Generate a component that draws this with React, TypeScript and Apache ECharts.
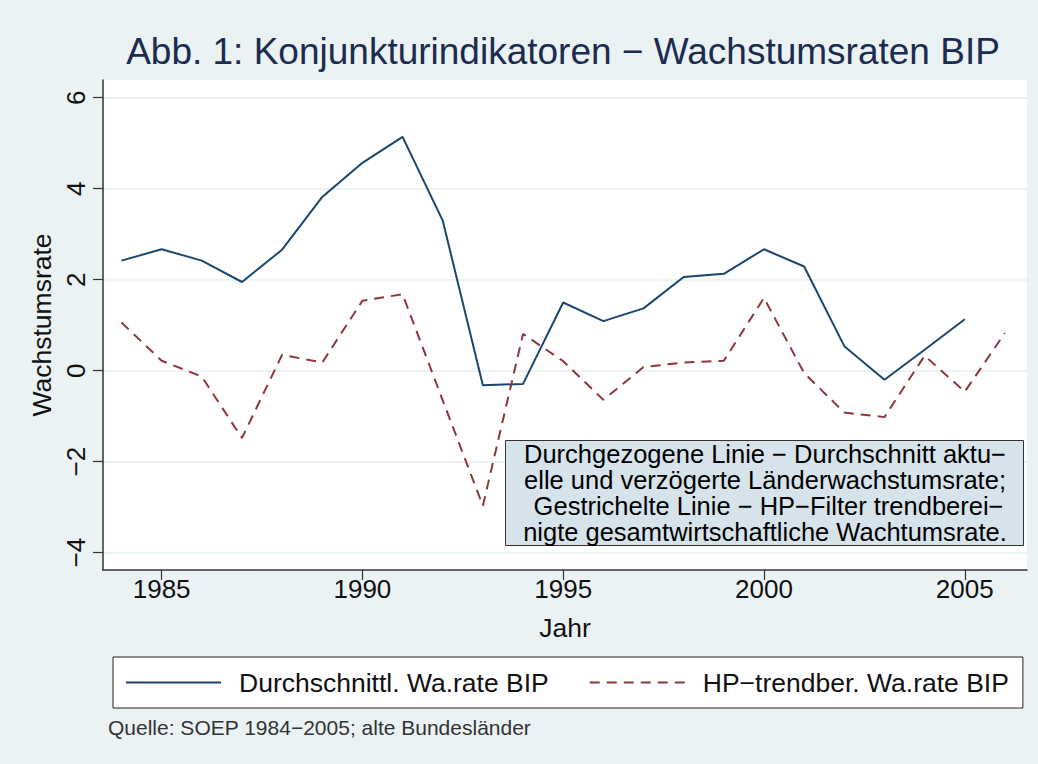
import React, { useEffect, useRef } from "react";
import * as echarts from "echarts";

const years = [1984, 1985, 1986, 1987, 1988, 1989, 1990, 1991, 1992, 1993, 1994, 1995, 1996, 1997, 1998, 1999, 2000, 2001, 2002, 2003, 2004, 2005, 2006];
const avgRate = [2.42, 2.67, 2.42, 1.95, 2.66, 3.82, 4.57, 5.14, 3.30, -0.32, -0.29, 1.50, 1.09, 1.37, 2.06, 2.13, 2.67, 2.29, 0.54, -0.20, 0.46, 1.13];
const hpRate = [1.06, 0.22, -0.13, -1.48, 0.35, 0.18, 1.54, 1.68, -0.65, -2.97, 0.81, 0.21, -0.64, 0.08, 0.18, 0.22, 1.60, -0.05, -0.92, -1.02, 0.33, -0.46, 0.83];
const yTicks = [-4, -2, 0, 2, 4, 6];
const xTicks = [1985, 1990, 1995, 2000, 2005];
const seriesNames = ["Durchschnittl. Wa.rate BIP", "HP\u2212trendber. Wa.rate BIP"];
const titleText = "Abb. 1: Konjunkturindikatoren \u2212 Wachstumsraten BIP";
const noteLines = [
  "Durchgezogene Linie \u2212 Durchschnitt aktu\u2212",
  "elle und verz\u00f6gerte L\u00e4nderwachstumsrate;",
  " Gestrichelte Linie \u2212 HP\u2212Filter trendberei\u2212",
  "nigte gesamtwirtschaftliche Wachtumsrate.",
];
const sourceText = "Quelle: SOEP 1984\u22122005; alte Bundesl\u00e4nder";

const FONT = "Liberation Sans, Arial, Helvetica, sans-serif";
const fmt = (v: number) => (v < 0 ? "\u2212" + Math.abs(v) : String(v));

export default function App() {
  const ref = useRef<HTMLDivElement>(null);
  useEffect(() => {
    document.body.style.margin = "0";
    const chart = echarts.init(ref.current!, null, { renderer: "svg" });
    const option: any = {
      animation: false,
      backgroundColor: "#eaf2f3",
      textStyle: { fontFamily: FONT },
      grid: {
        left: 103,
        right: 11,
        top: 80,
        bottom: 194,
        show: true,
        backgroundColor: "#ffffff",
        borderWidth: 0,
      },
      xAxis: {
        type: "value",
        min: 1983.54,
        max: 2006.55,
        name: "Jahr",
        nameLocation: "middle",
        nameGap: 44,
        nameTextStyle: { fontSize: 26.5, color: "#111", fontFamily: FONT },
        axisLine: { show: true, onZero: false, lineStyle: { color: "#333", width: 1.5 } },
        axisTick: { show: true, length: 10, customValues: xTicks, lineStyle: { color: "#333", width: 1.2 } },
        axisLabel: { customValues: xTicks, fontSize: 26, color: "#111", margin: 6, fontFamily: FONT, formatter: (v: number) => String(v) },
        splitLine: { show: false },
      },
      yAxis: {
        type: "value",
        min: -4.38,
        max: 6.39,
        name: "Wachstumsrate",
        nameLocation: "middle",
        nameGap: 47,
        nameTextStyle: { fontSize: 26.5, color: "#111", fontFamily: FONT },
        axisLine: { show: true, onZero: false, lineStyle: { color: "#333", width: 1.5 } },
        axisTick: { show: true, length: 10, customValues: yTicks, lineStyle: { color: "#333", width: 1.2 } },
        axisLabel: { customValues: yTicks, rotate: 90, fontSize: 26, color: "#111", margin: 14, formatter: (v: number) => fmt(v), fontFamily: FONT },
        splitLine: { show: true, lineStyle: { color: "#eaf2f3", width: 2 } },
      },
      legend: {
        left: 113,
        top: 657,
        orient: "horizontal",
        backgroundColor: "#ffffff",
        borderColor: "#222",
        borderWidth: 1,
        padding: [12, 14, 12, 12],
        itemWidth: 95,
        itemHeight: 14,
        itemGap: 40,
        itemStyle: { opacity: 0 },
        textStyle: { fontSize: 26.5, color: "#111", padding: [0, 0, 0, 13], fontFamily: FONT },
        data: seriesNames,
      },
      series: [
        {
          name: seriesNames[0],
          type: "line",
          data: avgRate.map((v, i) => [years[i], v]),
          symbol: "none",
          lineStyle: { color: "#1a476f", width: 2 },
          itemStyle: { color: "#1a476f" },
        },
        {
          name: seriesNames[1],
          type: "line",
          data: hpRate.map((v, i) => [years[i], v]),
          symbol: "none",
          lineStyle: { color: "#90353b", width: 2, type: [10, 7] },
          itemStyle: { color: "#90353b" },
        },
      ],
      graphic: [
        {
          type: "text",
          x: 563,
          y: 51,
          style: {
            text: titleText,
            fontSize: 37,
            fill: "#1c2b50",
            fontFamily: FONT,
            textAlign: "center",
            textVerticalAlign: "middle",
          },
        },
        {
          type: "rect",
          shape: { x: 505.5, y: 440.5, width: 518, height: 105 },
          style: { fill: "#d6e3ea", stroke: "#333", lineWidth: 1 },
          z: 100,
        },
        {
          type: "text",
          x: 765,
          y: 493,
          z: 101,
          style: {
            text: noteLines.join("\n"),
            fontSize: 25.5,
            lineHeight: 26,
            fill: "#000",
            fontFamily: FONT,
            textAlign: "center",
            textVerticalAlign: "middle",
          },
        },
        {
          type: "text",
          x: 108,
          y: 727,
          style: {
            text: sourceText,
            fontSize: 21,
            fill: "#333",
            fontFamily: FONT,
            textAlign: "left",
            textVerticalAlign: "middle",
          },
        },
      ],
    };
    chart.setOption(option);
    return () => chart.dispose();
  }, []);
  return <div ref={ref} style={{ width: 1038, height: 764 }} />;
}
